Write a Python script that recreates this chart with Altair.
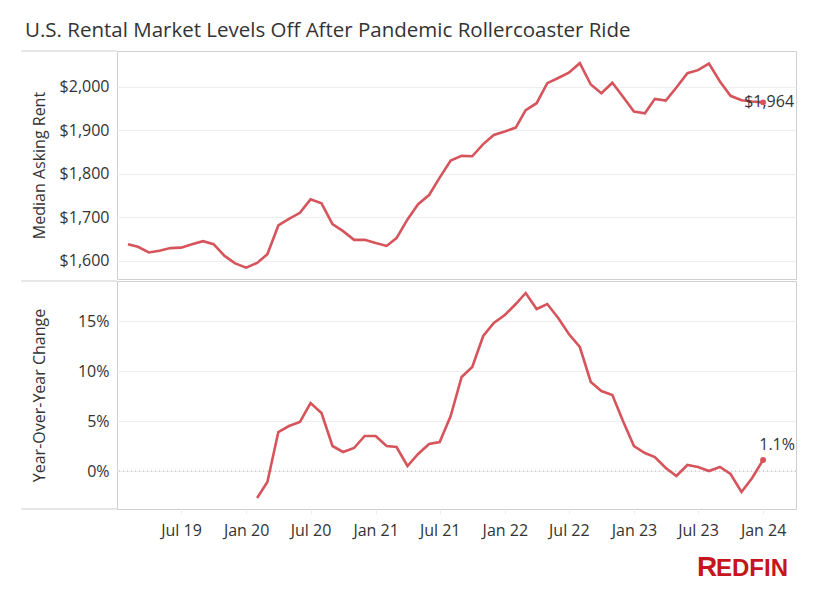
import altair as alt
import pandas as pd

# ---------------- data ----------------
rent_months = pd.date_range("2019-02-01", "2024-01-01", freq="MS").strftime("%Y-%m-%dT00:00").tolist()
rent = [
    1638, 1632, 1619, 1623, 1629, 1630, 1638, 1645, 1638, 1611, 1594,              # 2019 Feb-Dec
    1584, 1595, 1615, 1681, 1696, 1710, 1741, 1732, 1684, 1668, 1648, 1648,        # 2020
    1641, 1634, 1652, 1695, 1730, 1751, 1791, 1830, 1841, 1840, 1868, 1889,        # 2021
    1897, 1906, 1946, 1962, 2008, 2020, 2032, 2054, 2005, 1985, 2009, 1977,        # 2022
    1943, 1939, 1972, 1968, 1998, 2031, 2038, 2053, 2012, 1979, 1969, 1966,        # 2023
    1964,                                                                          # 2024 Jan
]
yoy_months = pd.date_range("2020-02-01", "2024-01-01", freq="MS").strftime("%Y-%m-%dT00:00").tolist()
yoy = [
    -2.7, -1.1, 3.9, 4.5, 4.9, 6.8, 5.8, 2.5, 1.9, 2.3, 3.5,                       # 2020 Feb-Dec
    3.5, 2.5, 2.4, 0.5, 1.7, 2.7, 2.9, 5.5, 9.4, 10.4, 13.5, 14.8,                 # 2021
    15.6, 16.7, 17.8, 16.2, 16.7, 15.3, 13.7, 12.4, 8.9, 8.0, 7.6, 5.0,            # 2022
    2.5, 1.8, 1.4, 0.3, -0.5, 0.6, 0.4, 0.0, 0.4, -0.3, -2.1, -0.7,                # 2023
    1.1,                                                                           # 2024 Jan
]
rent_ticks = [1600, 1700, 1800, 1900, 2000]
yoy_ticks = [0, 5, 10, 15]
x_tick_labels = [(2019, 7), (2020, 1), (2020, 7), (2021, 1), (2021, 7),
                 (2022, 1), (2022, 7), (2023, 1), (2023, 7), (2024, 1)]
rent_label = "$1,964"
yoy_label = "1.1%"
title_text = "U.S. Rental Market Levels Off After Pandemic Rollercoaster Ride"

df_rent = pd.DataFrame({"month": rent_months, "value": rent})
df_yoy = pd.DataFrame({"month": yoy_months, "value": yoy})
df_rent_last = df_rent.tail(1).assign(label=rent_label)
df_yoy_last = df_yoy.tail(1).assign(label=yoy_label)

# ---------------- style ----------------
RED = "#d6545b"
FONT = "Open Sans"
TXT = "#333333"
BORDER = "#cfcfcf"
W, H1, H2 = 679, 228, 228

x_domain = [alt.DateTime(year=2019, month=1, date=1), alt.DateTime(year=2024, month=4, date=3)]
x_vals = [alt.DateTime(year=y, month=m, date=1) for y, m in x_tick_labels]

y_axis_common = dict(grid=True, gridColor="#eeeeee", domain=False, ticks=False,
                     labelPadding=8, labelFontSize=16, labelFont=FONT, labelColor=TXT,
                     titleFont=FONT, titleFontSize=16, titleFontWeight="normal", titleColor=TXT,
                     titlePadding=8, minExtent=62, maxExtent=62)

dummy = pd.DataFrame({"a": [0]})

def left_rule(ypix):
    return alt.Chart(dummy).mark_rule(color=BORDER, strokeWidth=1).encode(
        x=alt.value(-96), x2=alt.value(0), y=alt.value(ypix))

# ---------------- top panel ----------------
x_top = alt.X("month:T", scale=alt.Scale(domain=x_domain), axis=None)
y_top = alt.Y("value:Q", scale=alt.Scale(domain=[1558, 2082], nice=False, zero=False),
              axis=alt.Axis(values=rent_ticks, format="$,.0f", title="Median Asking Rent",
                            **y_axis_common))

top_line = alt.Chart(df_rent).mark_line(color=RED, strokeWidth=2.6).encode(x=x_top, y=y_top)
top_pt = alt.Chart(df_rent_last).mark_point(color=RED, filled=True, size=35, opacity=1).encode(x=x_top, y=y_top)
top_lbl = alt.Chart(df_rent_last).mark_text(font=FONT, fontSize=16, color=TXT, align="center",
                                            baseline="middle", dx=6).encode(x=x_top, y=y_top, text="label:N")
top = alt.layer(top_line, top_pt, top_lbl, left_rule(0)).properties(width=W, height=H1)

# ---------------- bottom panel ----------------
x_bot = alt.X("month:T", scale=alt.Scale(domain=x_domain),
              axis=alt.Axis(values=x_vals, format="%b %y", title=None, grid=False, domain=False,
                            ticks=True, tickColor="#eeeeee", tickSize=5, labelPadding=8,
                            labelFont=FONT, labelFontSize=16, labelColor=TXT))
y_bot = alt.Y("value:Q", scale=alt.Scale(domain=[-3.8, 19], nice=False, zero=False),
              axis=alt.Axis(values=yoy_ticks, labelExpr="datum.value + '%'",
                            title="Year-Over-Year Change", **y_axis_common))

zero = alt.Chart(pd.DataFrame({"z": [0]})).mark_rule(color="#b5b5b5", strokeWidth=1, strokeDash=[1, 3]).encode(
    y=alt.Y("z:Q", scale=alt.Scale(domain=[-3.8, 19], nice=False, zero=False)))
bot_line = alt.Chart(df_yoy).mark_line(color=RED, strokeWidth=2.6).encode(x=x_bot, y=y_bot)
bot_pt = alt.Chart(df_yoy_last).mark_point(color=RED, filled=True, size=35, opacity=1).encode(x=x_bot, y=y_bot)
bot_lbl = alt.Chart(df_yoy_last).mark_text(font=FONT, fontSize=16, color=TXT, align="center",
                                           baseline="middle", dx=14, dy=-15).encode(x=x_bot, y=y_bot, text="label:N")
logo_r = alt.Chart(dummy).mark_text(text="R", font="Liberation Sans", fontWeight="bold", fontSize=28,
                                    color="#c4161c", align="left", baseline="alphabetic").encode(
    x=alt.value(580), y=alt.value(295))
logo_rest = alt.Chart(dummy).mark_text(text="EDFIN", font="Liberation Sans", fontWeight="bold", fontSize=24,
                                       color="#c4161c", align="left", baseline="alphabetic").encode(
    x=alt.value(599), y=alt.value(295))

bottom = alt.layer(zero, bot_line, bot_pt, bot_lbl, left_rule(0), left_rule(H2), logo_r, logo_rest).properties(
    width=W, height=H2)

chart = alt.vconcat(top, bottom, spacing=0).properties(
    title=alt.TitleParams(title_text, anchor="start", font=FONT, fontSize=20.5, fontWeight="normal",
                          color=TXT, offset=9, dx=5),
    padding={"left": 12, "top": 12, "right": 5, "bottom": 5},
).configure_view(stroke=BORDER, strokeWidth=1).configure_concat(spacing=0)

chart.save("out.html", embed_options={"renderer": "svg", "actions": False})
